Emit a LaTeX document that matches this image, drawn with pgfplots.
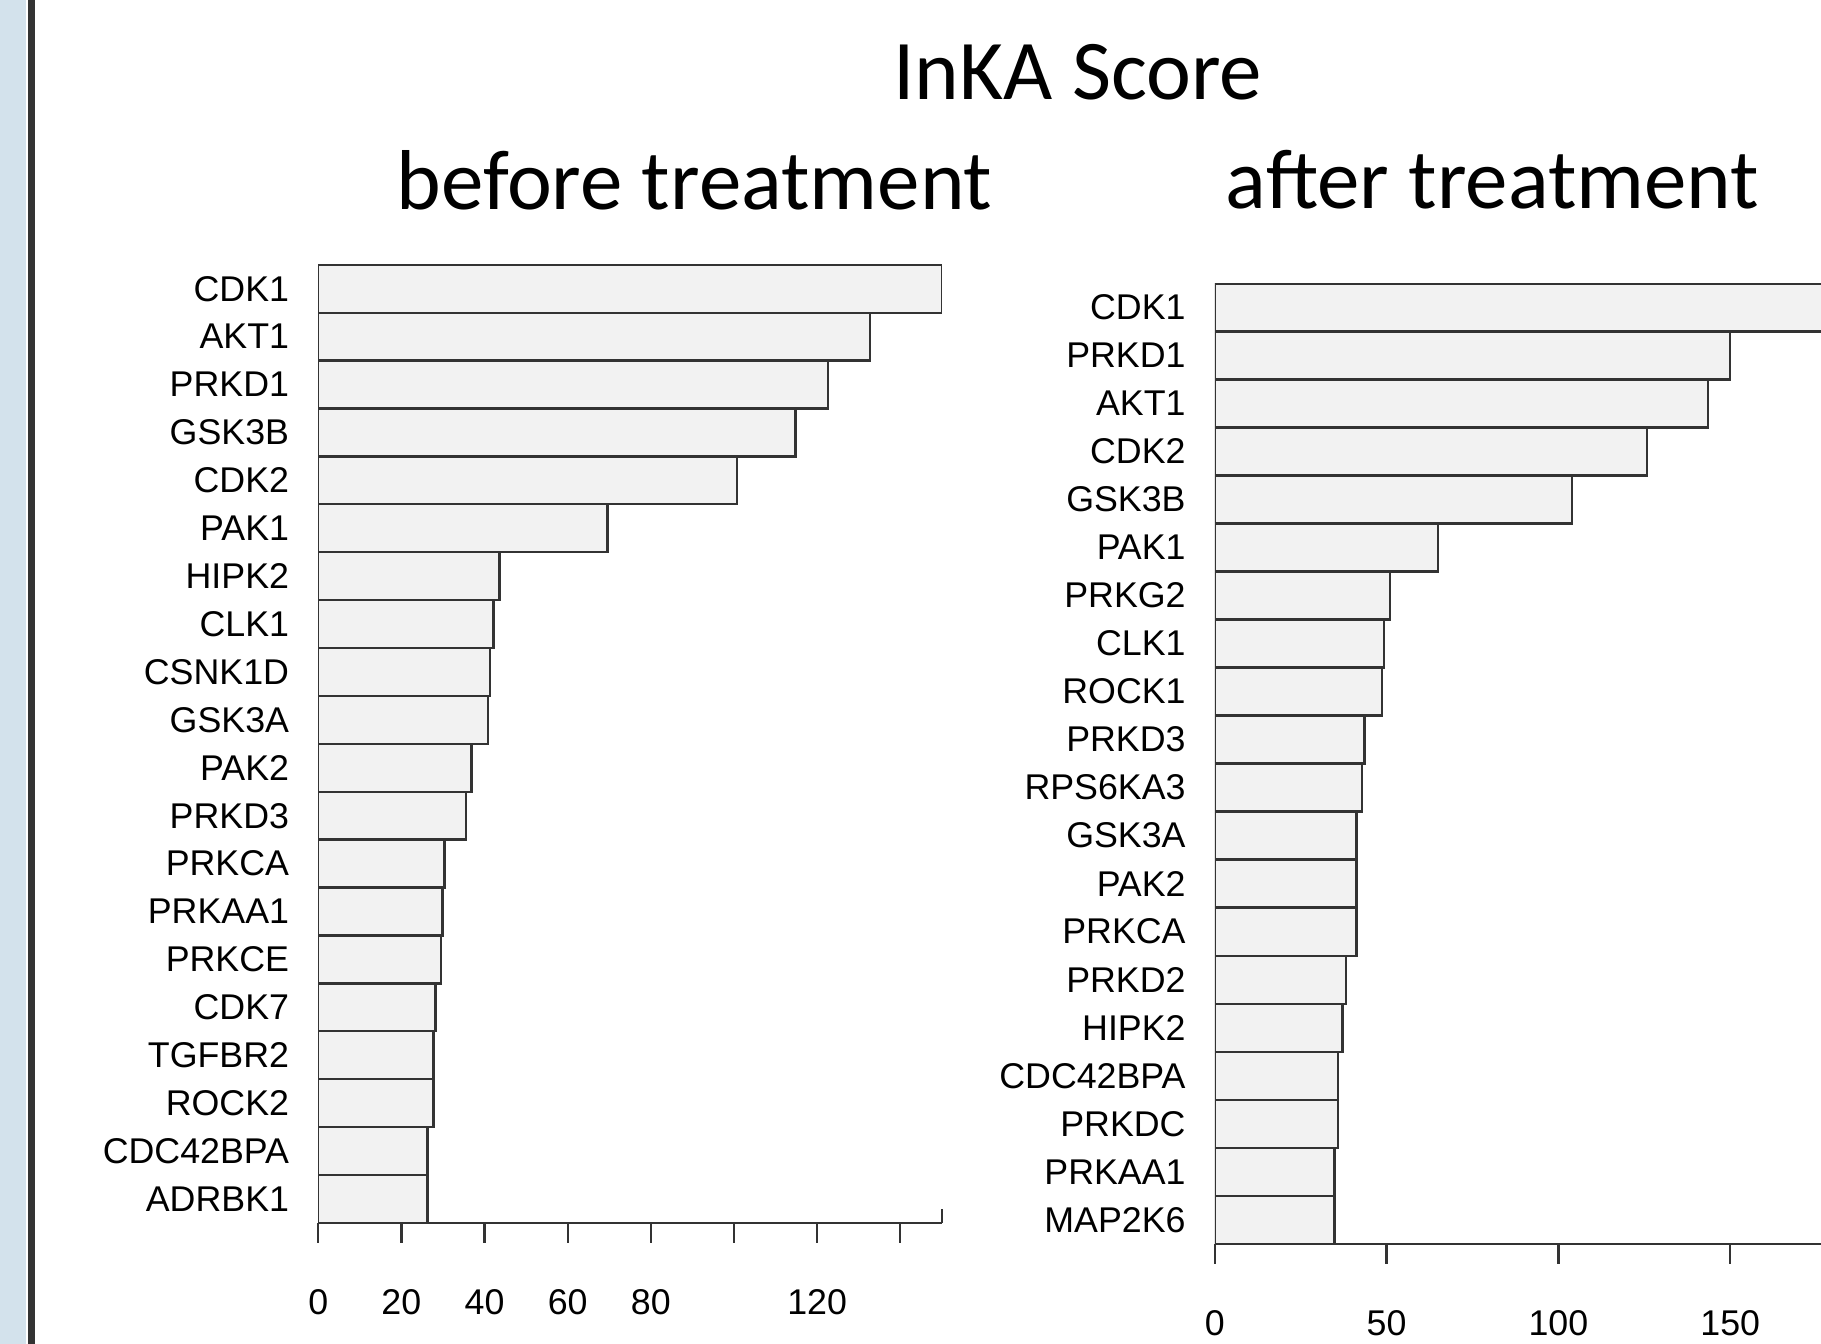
\documentclass[border=0pt]{standalone}
\usepackage{pgfplots}
\pgfplotsset{compat=1.18}
\usepackage{fontspec}
\setmainfont{Liberation Sans}
\newfontfamily\calfont{Carlito}
\definecolor{barfill}{HTML}{F2F2F2}
\definecolor{strip}{HTML}{D3E2EC}
\definecolor{darkline}{HTML}{333333}
\begin{document}
\begin{tikzpicture}
\useasboundingbox (0,0) rectangle (392pt,289.25pt);
\clip (0,0) rectangle (392pt,289.25pt);
\fill[strip] (0,0) rectangle (5.5pt,289.25pt);
\fill[darkline] (6pt,0) rectangle (7.5pt,289.25pt);
\pgfplotsset{rstyle/.style={
  scale only axis, xbar, bar width=1, ymin=-0.5, ymax=19.5,
  axis x line*=bottom, axis y line*=left,
  y axis line style={draw=none}, ytick style={draw=none},
  ytick={0,...,19}, tick align=outside,
  major tick length=4.25pt,
  x tick style={line width=0.5pt,black!80},
  x axis line style={line width=0.5pt,black!80},
  ticklabel style={font=\fontsize{7.7}{9}\selectfont},
  yticklabel style={xshift=1.5pt},
  xticklabel style={yshift=-6.5pt},
  /pgf/number format/assume math mode=true,
  clip=true}}
\begin{axis}[rstyle, at={(68.5pt,26pt)}, anchor=south west,
  width=134.25pt, height=206.25pt, xmin=0, xmax=150,
  xtick={0,20,40,60,80,100,120,140}, xticklabels={0,20,40,60,80,,120,},
  extra x ticks={150}, extra x tick labels={}, extra x tick style={tick align=inside, major tick length=3pt},
  yticklabels={ADRBK1,CDC42BPA,ROCK2,TGFBR2,CDK7,PRKCE,PRKAA1,PRKCA,PRKD3,PAK2,GSK3A,CSNK1D,CLK1,HIPK2,PAK1,CDK2,GSK3B,PRKD1,AKT1,CDK1}]
\addplot[fill=barfill, draw=black!80, line width=0.5pt] coordinates {
(26.3,0) (26.3,1) (27.7,2) (27.7,3) (28.2,4) (29.6,5) (29.9,6) (30.4,7) (35.5,8) (36.9,9)
(40.8,10) (41.3,11) (42.2,12) (43.6,13) (69.6,14) (100.8,15) (114.8,16) (122.6,17) (132.7,18) (150,19)};
\end{axis}
\begin{axis}[rstyle, at={(261.5pt,21.5pt)}, anchor=south west,
  width=130.5pt, height=206.75pt, xmin=0, xmax=176.4,
  xtick={0,50,100,150},
  yticklabels={MAP2K6,PRKAA1,PRKDC,CDC42BPA,HIPK2,PRKD2,PRKCA,PAK2,GSK3A,RPS6KA3,PRKD3,ROCK1,CLK1,PRKG2,PAK1,GSK3B,CDK2,AKT1,PRKD1,CDK1}]
\addplot[fill=barfill, draw=black!80, line width=0.5pt] coordinates {
(34.8,0) (34.8,1) (35.8,2) (35.8,3) (37.2,4) (38.2,5) (41.2,6) (41.2,7) (41.2,8) (42.9,9)
(43.6,10) (48.6,11) (49.3,12) (51,13) (64.9,14) (104,15) (125.7,16) (143.6,17) (150,18) (190,19)};
\end{axis}
\node[font=\calfont\fontsize{18.3}{22}\selectfont] at (232pt,273.75pt) {InKA Score};
\node[font=\calfont\fontsize{18.3}{22}\selectfont] at (149.5pt,250.5pt) {before treatment};
\node[font=\calfont\fontsize{18.3}{22}\selectfont] at (321.25pt,250.5pt) {after treatment};
\end{tikzpicture}
\end{document}
